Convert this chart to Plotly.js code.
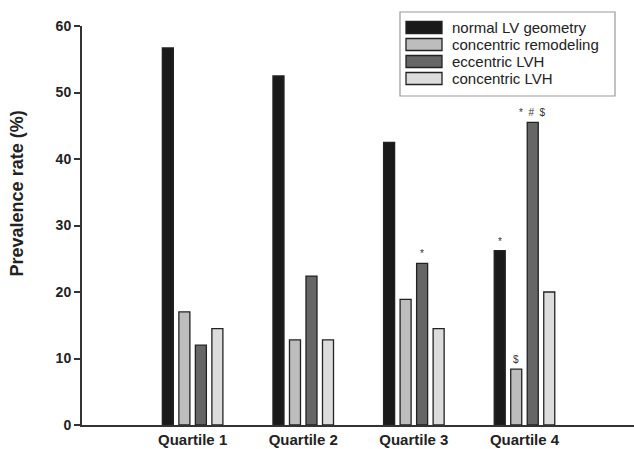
<!DOCTYPE html>
<html>
<head>
<meta charset="utf-8">
<script src="https://cdn.plot.ly/plotly-3.0.1.min.js"></script>
<style>html,body{margin:0;padding:0;background:#fff;}#chart{width:634px;height:449px;}</style>
</head>
<body>
<div id="chart"></div>
<script>
// ---- data ----
const categories = ["Quartile 1", "Quartile 2", "Quartile 3", "Quartile 4"];
const seriesNames = ["normal LV geometry", "concentric remodeling", "eccentric LVH", "concentric LVH"];
const normalLV = [56.7, 52.5, 42.5, 26.2];
const concentricRemodeling = [17.0, 12.8, 18.9, 8.4];
const eccentricLVH = [12.0, 22.4, 24.3, 45.5];
const concentricLVH = [14.5, 12.8, 14.5, 20.0];
// significance marks: [series index, category index, text]
const sigSeries = [2, 0, 2, 1];
const sigCategory = [2, 3, 3, 3];
const sigText = ["*", "*", "*  #  $", "$"];

const seriesValues = [normalLV, concentricRemodeling, eccentricLVH, concentricLVH];
const colors = ["#1a1a1a", "#bdbdbd", "#666666", "#dcdcdc"];
const FONT = "Liberation Sans, Arial, sans-serif";

const bargap = 0.403, slot = (1 - bargap) / 4;

const traces = seriesValues.map((vals, i) => ({
  type: "bar",
  name: seriesNames[i],
  x: categories,
  y: vals,
  marker: { color: colors[i], line: { color: "#222", width: 1.3 } },
  showlegend: false,
  hoverinfo: "x+y+name"
}));

const annotations = [];
for (let k = 0; k < sigText.length; k++) {
  const s = sigSeries[k], c = sigCategory[k];
  annotations.push({
    x: c + (s - 1.5) * slot, y: seriesValues[s][c], xref: "x", yref: "y",
    text: sigText[k], showarrow: false, yanchor: "bottom", yshift: 2,
    font: { family: FONT, size: 10, color: "#333" }
  });
}
// y title
annotations.push({
  xref: "paper", yref: "paper", x: -0.118, y: 0.58, xanchor: "center", yanchor: "middle",
  text: "<b>Prevalence rate (%)</b>", textangle: -90, showarrow: false,
  font: { family: FONT, size: 18, color: "#222" }
});

// custom legend
const shapes = [];
const W = 552, H = 399, L0 = 82;
const px = v => (v - L0) / W, py = v => (425 - v) / H;
shapes.push({ type: "rect", xref: "paper", yref: "paper", x0: px(400), x1: px(615), y0: py(96), y1: py(12),
  line: { color: "#999", width: 1.2 }, fillcolor: "rgba(0,0,0,0)" });
seriesNames.forEach((n, i) => {
  const cy = 27.5 + i * 17;
  shapes.push({ type: "rect", xref: "paper", yref: "paper", x0: px(406), x1: px(442), y0: py(cy + 6), y1: py(cy - 6),
    line: { color: "#222", width: 1.3 }, fillcolor: colors[i] });
  annotations.push({ xref: "paper", yref: "paper", x: px(450), y: py(cy), xanchor: "left", yanchor: "middle",
    text: n, showarrow: false, font: { family: FONT, size: 15, color: "#222" } });
});

const layout = {
  width: 634, height: 449,
  margin: { l: 82, r: 0, t: 26, b: 24 },
  paper_bgcolor: "#fff", plot_bgcolor: "#fff",
  barmode: "group", bargap: bargap, bargroupgap: 0.333,
  font: { family: FONT, color: "#222" },
  xaxis: {
    type: "category", range: [-1, 3.99], showgrid: false, zeroline: false,
    showline: true, linecolor: "#333", linewidth: 2, ticks: "",
    tickfont: { family: FONT, size: 15, color: "#222", weight: "bold" }
  },
  yaxis: {
    range: [0, 60], tickvals: [0, 10, 20, 30, 40, 50, 60], showgrid: false, zeroline: false,
    showline: true, linecolor: "#333", linewidth: 2, ticks: "outside", ticklen: 6, tickwidth: 2, tickcolor: "#333",
    tickfont: { family: FONT, size: 14, color: "#222", weight: "bold" }
  },
  annotations: annotations,
  shapes: shapes
};

Plotly.newPlot("chart", traces, layout, { displayModeBar: false, staticPlot: true });
</script>
</body>
</html>
